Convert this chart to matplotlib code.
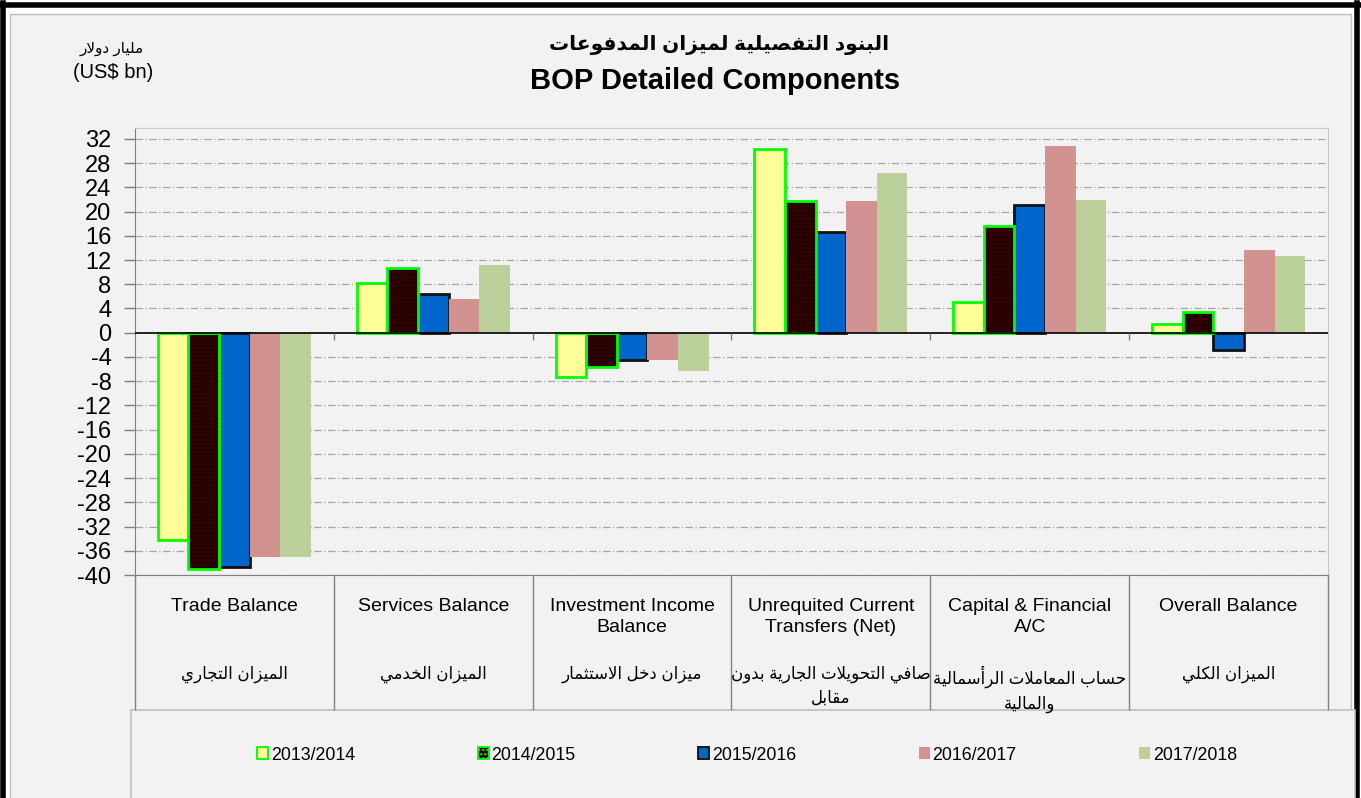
import unicodedata
import numpy as np
import matplotlib
matplotlib.use("Agg")
import matplotlib.pyplot as plt
from matplotlib.patches import Rectangle, Patch
from matplotlib.transforms import blended_transform_factory

# Data (US$ bn)
categories_en = ["Trade Balance", "Services Balance", "Investment Income\nBalance",
                 "Unrequited Current\nTransfers (Net)", "Capital & Financial\nA/C", "Overall Balance"]
categories_ar = ["الميزان التجاري", "الميزان الخدمي", "ميزان دخل الاستثمار",
                 "صافي التحويلات الجارية بدون\nمقابل", "حساب المعاملات الرأسمالية\nوالمالية",
                 "الميزان الكلي"]
years = ["2013/2014", "2014/2015", "2015/2016", "2016/2017", "2017/2018"]
v_2013 = [-34.2, 8.2, -7.3, 30.3, 5.1, 1.5]
v_2014 = [-39.0, 10.7, -5.6, 21.7, 17.7, 3.5]
v_2015 = [-38.6, 6.4, -4.5, 16.7, 21.1, -2.8]
v_2016 = [-37.1, 5.6, -4.5, 21.7, 30.9, 13.6]
v_2017 = [-37.1, 11.1, -6.3, 26.4, 21.9, 12.7]
y_ticks = list(range(-40, 33, 4))

title_ar = "البنود التفصيلية لميزان المدفوعات"
title_en = "BOP Detailed Components"
unit_ar = "مليار دولار"
unit_en = "(US$ bn)"

# Arabic shaping (matplotlib has no bidi/shaping)
RIGHT_ONLY = set("اأإآدذرزوؤةى")
ALEFS = set("اأإآ")


def is_ar(c):
    return "\u0621" <= c <= "\u064a" and c != "ء"


def shape_line(text):
    out = []
    i = 0
    n = len(text)
    while i < n:
        c = text[i]
        prev = text[i - 1] if i > 0 else ""
        link_prev = is_ar(c) and is_ar(prev) and prev not in RIGHT_ONLY
        nxt = text[i + 1] if i + 1 < n else ""
        if c == "ل" and nxt in ALEFS:
            suffix = unicodedata.name(nxt)[len("ARABIC LETTER "):]
            form = " FINAL FORM" if link_prev else " ISOLATED FORM"
            out.append(unicodedata.lookup("ARABIC LIGATURE LAM WITH " + suffix + form))
            i += 2
            continue
        if not is_ar(c):
            out.append(c)
            i += 1
            continue
        link_next = c not in RIGHT_ONLY and is_ar(nxt)
        if link_prev and link_next:
            form = "MEDIAL"
        elif link_prev:
            form = "FINAL"
        elif link_next:
            form = "INITIAL"
        else:
            form = "ISOLATED"
        try:
            out.append(unicodedata.lookup(unicodedata.name(c) + " " + form + " FORM"))
        except KeyError:
            out.append(c)
        i += 1
    return "".join(reversed(out))


def ar(text):
    return "\n".join(shape_line(t) for t in text.split("\n"))


plt.rcParams["font.family"] = ["Liberation Sans", "DejaVu Sans"]

W, H = 1361, 798
fig = plt.figure(figsize=(W / 100, H / 100), dpi=100, facecolor="white")


def fx(px):
    return px / W


def fy(py):
    return 1 - py / H


# outer frame and chart area (behind the axes)
fig.add_artist(Rectangle((fx(10), fy(800)), fx(1341), fy(14) - fy(800), transform=fig.transFigure,
                         facecolor="#f2f2f2", edgecolor="#bfbfbf", lw=1, zorder=-3))
fig.add_artist(plt.Line2D([fx(3), fx(3)], [0, fy(3)], transform=fig.transFigure, color="black", lw=4, zorder=-2))
fig.add_artist(plt.Line2D([fx(1357), fx(1357)], [0, fy(3)], transform=fig.transFigure, color="black", lw=4, zorder=-2))
fig.add_artist(plt.Line2D([fx(1), fx(1359)], [fy(5), fy(5)], transform=fig.transFigure, color="black", lw=4, zorder=-2))

# legend box
fig.add_artist(Rectangle((fx(131), fy(800)), fx(1224), fy(710) - fy(800), transform=fig.transFigure,
                         facecolor="#f2f2f2", edgecolor="#bfbfbf", lw=1.2, zorder=-2))

ax = fig.add_axes([fx(135), fy(575), fx(1328 - 135), fy(128) - fy(575)])
ax.set_facecolor("#f2f2f2")

x = np.arange(len(categories_en))
bw = 0.154
offsets = (np.arange(5) - 2) * bw
series = [v_2013, v_2014, v_2015, v_2016, v_2017]
fills = ["#ffff99", "#330000", "#0066cc", "#d39292", "#bcd09b"]
edges = ["#00ff00", "#00ff00", "#111111", "none", "none"]
lws = [2, 2, 2, 0, 0]

for k, vals in enumerate(series):
    if k == 1:
        ax.bar(x + offsets[k], vals, bw, color=fills[k], hatch="....", edgecolor="#120000", lw=0, zorder=3)
        ax.bar(x + offsets[k], vals, bw, color="none", edgecolor=edges[k], lw=lws[k], zorder=4)
    else:
        ax.bar(x + offsets[k], vals, bw, color=fills[k], edgecolor=edges[k], lw=lws[k], zorder=3)

ax.set_xlim(-0.5, len(categories_en) - 0.5)
ax.set_ylim(-40, 33.8)
ax.set_yticks(y_ticks)
ax.set_yticklabels([str(t) for t in y_ticks], fontsize=17)
ax.tick_params(axis="y", length=8, width=1, color="#808080", pad=9)
ax.set_xticks([])

for t in y_ticks:
    if t != 0:
        ax.axhline(t, color="#a6a6a6", lw=0.9, ls=(0, (6, 2, 1, 2)), zorder=1)
ax.axhline(0, color="black", lw=1.2, zorder=5)

# ticks on the zero line at category boundaries
ax.vlines(x[:-1] + 0.5, -1.2, 0, color="#808080", lw=1, zorder=5)

for side in ["top", "right"]:
    ax.spines[side].set_color("#c8c8c8")
ax.spines["left"].set_color("#808080")
ax.spines["bottom"].set_color("#808080")

# category label table under the axis
trans = blended_transform_factory(ax.transData, ax.transAxes)
span = 575 - 128
drop = -(710 - 575) / span
ax.vlines(np.arange(len(categories_en) + 1) - 0.5, drop, 0, transform=trans, color="#808080",
          lw=1, clip_on=False)

y_en = -(598 - 575) / span
y_ar = -(666 - 575) / span
for i in range(len(categories_en)):
    ax.text(x[i], y_en, categories_en[i], transform=trans, ha="center", va="top", fontsize=14,
            linespacing=1.27)
    ax.text(x[i], y_ar, ar(categories_ar[i]), transform=trans, ha="center", va="top", fontsize=12,
            linespacing=1.55)

# titles
fig.text(fx(719), fy(45), ar(title_ar), ha="center", va="center", fontsize=14.5, fontweight="bold")
fig.text(fx(715), fy(81), title_en, ha="center", va="center", fontsize=21, fontweight="bold")
fig.text(fx(112), fy(49), ar(unit_ar), ha="center", va="center", fontsize=11)
fig.text(fx(113), fy(72), unit_en, ha="center", va="center", fontsize=14.5)

# legend
handles = [Patch(facecolor=fills[k], edgecolor=edges[k], lw=lws[k] / 1.5, hatch="...." if k == 1 else None)
           for k in range(5)]
fig.legend(handles, years, loc="center", bbox_to_anchor=(fx(747), fy(755)), ncol=5, frameon=False,
           fontsize=12.8, handlelength=0.62, handleheight=0.62, handletextpad=0.15, columnspacing=6.9)

fig.savefig("out.png", dpi=100, facecolor="white")
